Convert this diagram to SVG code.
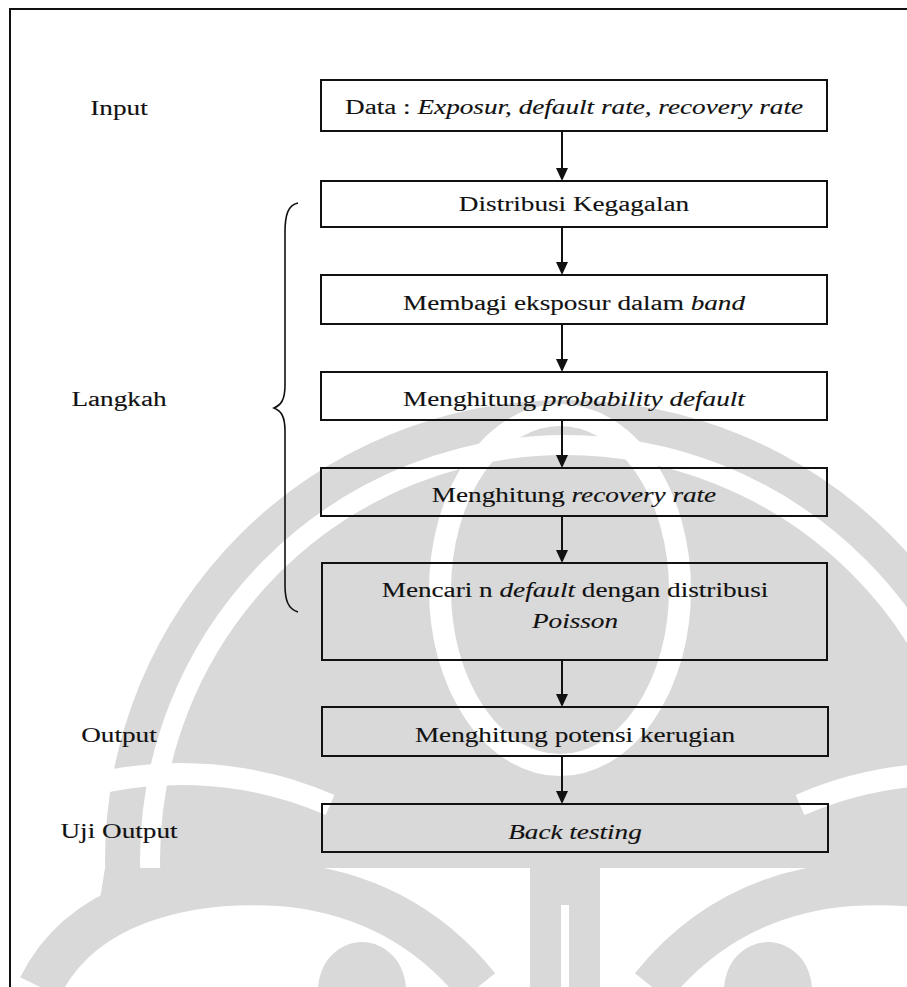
<svg xmlns="http://www.w3.org/2000/svg" width="907" height="987" viewBox="0 0 907 987">
<style>
.t{font-family:"Liberation Serif","Times New Roman",serif;font-size:20px;fill:#111;stroke:#111;stroke-width:0.12;text-anchor:middle}
.i{font-style:italic}
.box{fill:none;stroke:#111;stroke-width:2}
.wm{fill:#d9d9d9}
.ws{fill:none;stroke:#d9d9d9}
.wl{fill:none;stroke:#fff}
.con{stroke:#111;stroke-width:2;fill:none}
.ah{fill:#111}
</style>
<rect width="907" height="987" fill="#fff"/>
<g id="watermark">
<circle class="wm" cx="565" cy="860" r="460"/>
<circle class="wl" cx="565" cy="860" r="415" stroke-width="20"/>
<ellipse class="wl" cx="560" cy="590" rx="120" ry="175" stroke-width="22"/>
<path class="wl" stroke-width="22" d="M40,800 C150,760 250,770 330,805"/>
<path class="wl" stroke-width="22" d="M1090,800 C980,760 880,770 800,805"/>
<rect x="0" y="868" width="907" height="119" fill="#fff"/>
<path class="wm" d="M105,868 L230,868 C180,880 120,900 95,930 Z"/>
<path class="wm" d="M1025,868 L900,868 C950,880 1010,900 1035,930 Z"/>
<path class="ws" stroke-width="44" d="M40,987 C80,905 180,878 280,884 C380,892 440,940 478,987"/>
<path class="ws" stroke-width="44" d="M1090,987 C1050,905 950,878 850,884 C750,892 690,940 652,987"/>
<ellipse class="wm" cx="362" cy="990" rx="44" ry="48"/>
<ellipse class="wm" cx="768" cy="990" rx="44" ry="48"/>
<rect class="wm" x="530" y="860" width="70" height="127"/>
<rect x="561" y="905" width="8" height="82" fill="#fff"/>
</g>
<g id="frame" class="con">
<path d="M9,9 L907,9 M10,9 L10,987"/>
</g>
<g id="labels">
<text class="t" transform="translate(119,115) scale(1.36,1)">Input</text>
<text class="t" transform="translate(119,406) scale(1.36,1)">Langkah</text>
<text class="t" transform="translate(119,742) scale(1.36,1)">Output</text>
<text class="t" transform="translate(119,838) scale(1.36,1)">Uji Output</text>
</g>
<g id="brace">
<path d="M298,203 C288,205 285,215 285,232 L285,385 C285,400 281,405 274,408 C281,411 285,416 285,431 L285,585 C285,600 288,609 298,612" fill="none" stroke="#111" stroke-width="1.6"/>
</g>
<g id="connectors">
<g class="con">
<line x1="562" y1="131" x2="562" y2="170"/>
<line x1="562" y1="227" x2="562" y2="264"/>
<line x1="562" y1="324" x2="562" y2="361"/>
<line x1="562" y1="420" x2="562" y2="457"/>
<line x1="562" y1="516" x2="562" y2="552"/>
<line x1="562" y1="660" x2="562" y2="696"/>
<line x1="562" y1="756" x2="562" y2="793"/>
</g>
<g class="ah">
<polygon points="556,168 568,168 562,181"/>
<polygon points="556,262 568,262 562,275"/>
<polygon points="556,359 568,359 562,372"/>
<polygon points="556,455 568,455 562,468"/>
<polygon points="556,550 568,550 562,563"/>
<polygon points="556,694 568,694 562,707"/>
<polygon points="556,791 568,791 562,804"/>
</g>
</g>
<g id="n1"><rect class="box" x="321" y="80" width="506" height="51"/>
<text class="t" transform="translate(574,114) scale(1.36,1)">Data : <tspan class="i">Exposur, default rate, recovery rate</tspan></text></g>
<g id="n2"><rect class="box" x="321" y="181" width="506" height="46"/>
<text class="t" transform="translate(574,211) scale(1.36,1)">Distribusi Kegagalan</text></g>
<g id="n3"><rect class="box" x="321" y="275" width="506" height="49"/>
<text class="t" transform="translate(574,310) scale(1.36,1)">Membagi eksposur dalam <tspan class="i">band</tspan></text></g>
<g id="n4"><rect class="box" x="321" y="372" width="506" height="48"/>
<text class="t" transform="translate(574,406) scale(1.36,1)">Menghitung <tspan class="i">probability default</tspan></text></g>
<g id="n5"><rect class="box" x="321" y="468" width="506" height="48"/>
<text class="t" transform="translate(574,502) scale(1.36,1)">Menghitung <tspan class="i">recovery rate</tspan></text></g>
<g id="n6"><rect class="box" x="322" y="563" width="505" height="97"/>
<text class="t" transform="translate(575,597) scale(1.36,1)">Mencari n <tspan class="i">default</tspan> dengan distribusi</text>
<text class="t i" transform="translate(575,628) scale(1.36,1)">Poisson</text></g>
<g id="n7"><rect class="box" x="322" y="707" width="506" height="49"/>
<text class="t" transform="translate(575,742) scale(1.36,1)">Menghitung potensi kerugian</text></g>
<g id="n8"><rect class="box" x="322" y="804" width="506" height="48"/>
<text class="t i" transform="translate(575,839) scale(1.36,1)">Back testing</text></g>
</svg>
